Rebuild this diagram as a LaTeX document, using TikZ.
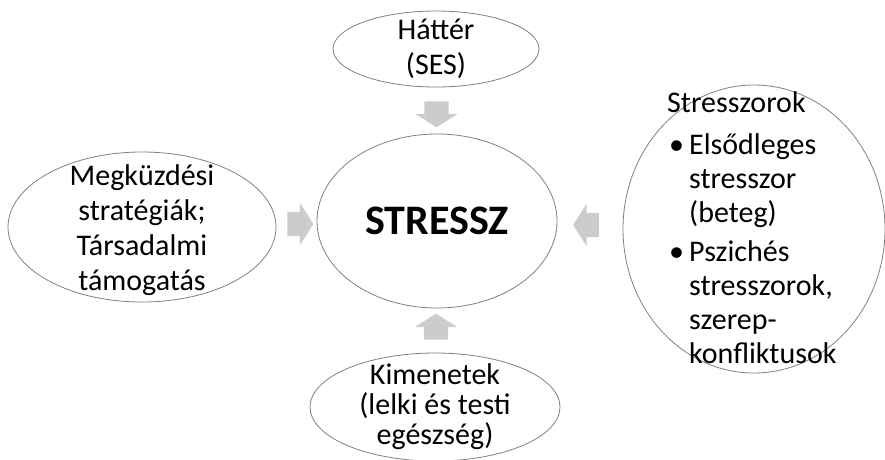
\documentclass[tikz,border=0pt]{standalone}
\usepackage{fontspec}
\setmainfont{Carlito}
\usetikzlibrary{shapes.geometric,shapes.arrows,calc}

\begin{document}
\begin{tikzpicture}[
        x=1pt, y=-1pt,
        % Ellipszisek
        oval/.style={
            ellipse, draw=black!50, line width=0.8pt, inner sep=0pt
        },
        % Szöveg az ellipszisekben
        ovaltext/.style={
            align=center, inner sep=0pt,
            font=\fontsize{30}{35}\selectfont
        },
        % Blokknyilak
        blockarrow/.style={
            single arrow, fill=black!20, draw=none,
            inner xsep=0pt, inner ysep=12pt,
            minimum height=26pt,
            single arrow head extend=9pt, single arrow tip angle=115
        }
    ]
        \useasboundingbox (0,0) rectangle (885,459);

        % Középső ellipszis
        \node [oval, minimum width=240pt, minimum height=174pt] (stressz) at (437,221) {};
        \node [inner sep=0pt, font=\bfseries\fontsize{42}{48}\selectfont] (stresszT) at (stressz) {STRESSZ};

        % Háttér
        \node [oval, minimum width=206pt, minimum height=76pt] (hatter) at (436,49) {};
        \node [ovaltext] (hatterT) at (hatter) {Háttér\\(SES)};

        % Megküzdés
        \node [oval, minimum width=268pt, minimum height=150pt] (megkuzd) at (142,227) {};
        \node [ovaltext] (megkuzdT) at ($(megkuzd)+(0,3)$) {Megküzdési\\stratégiák;\\Társadalmi\\támogatás};

        % Stresszorok
        \node [oval, minimum width=262pt, minimum height=288pt] (stresszor) at (754,229) {};
        \node [align=left, inner sep=0pt, anchor=base west,
               font=\fontsize{30}{34}\selectfont] (stresszorT) at (667,363)
            {Stresszorok\\[8pt]
             \hspace*{2pt}\makebox[20pt][l]{•}Elsődleges\\
             \hspace*{22pt}stresszor\\
             \hspace*{22pt}(beteg)\\[5pt]
             \hspace*{2pt}\makebox[20pt][l]{•}Pszichés\\
             \hspace*{22pt}stresszorok,\\
             \hspace*{22pt}szerep-\\
             \hspace*{22pt}konfliktusok};

        % Kimenetek
        \node [oval, minimum width=250pt, minimum height=108pt] (kimenet) at (435,407) {};
        \node [ovaltext, font=\fontsize{30}{30}\selectfont] (kimenetT) at (kimenet) {Kimenetek\\(lelki és testi\\egészség)};

        % Nyilak
        \node [blockarrow, rotate=-90] (a1) at ($(hatter.south)!0.5!(stressz.north)$) {};
        \node [blockarrow] (a2) at ($(megkuzd.east)!0.5!(stressz.west)$) {};
        \node [blockarrow, rotate=180] (a3) at ($(stresszor.west)!0.5!(stressz.east)$) {};
        \node [blockarrow, rotate=90] (a4) at ($(kimenet.north)!0.5!(stressz.south)$) {};

    \end{tikzpicture}
\end{document}
